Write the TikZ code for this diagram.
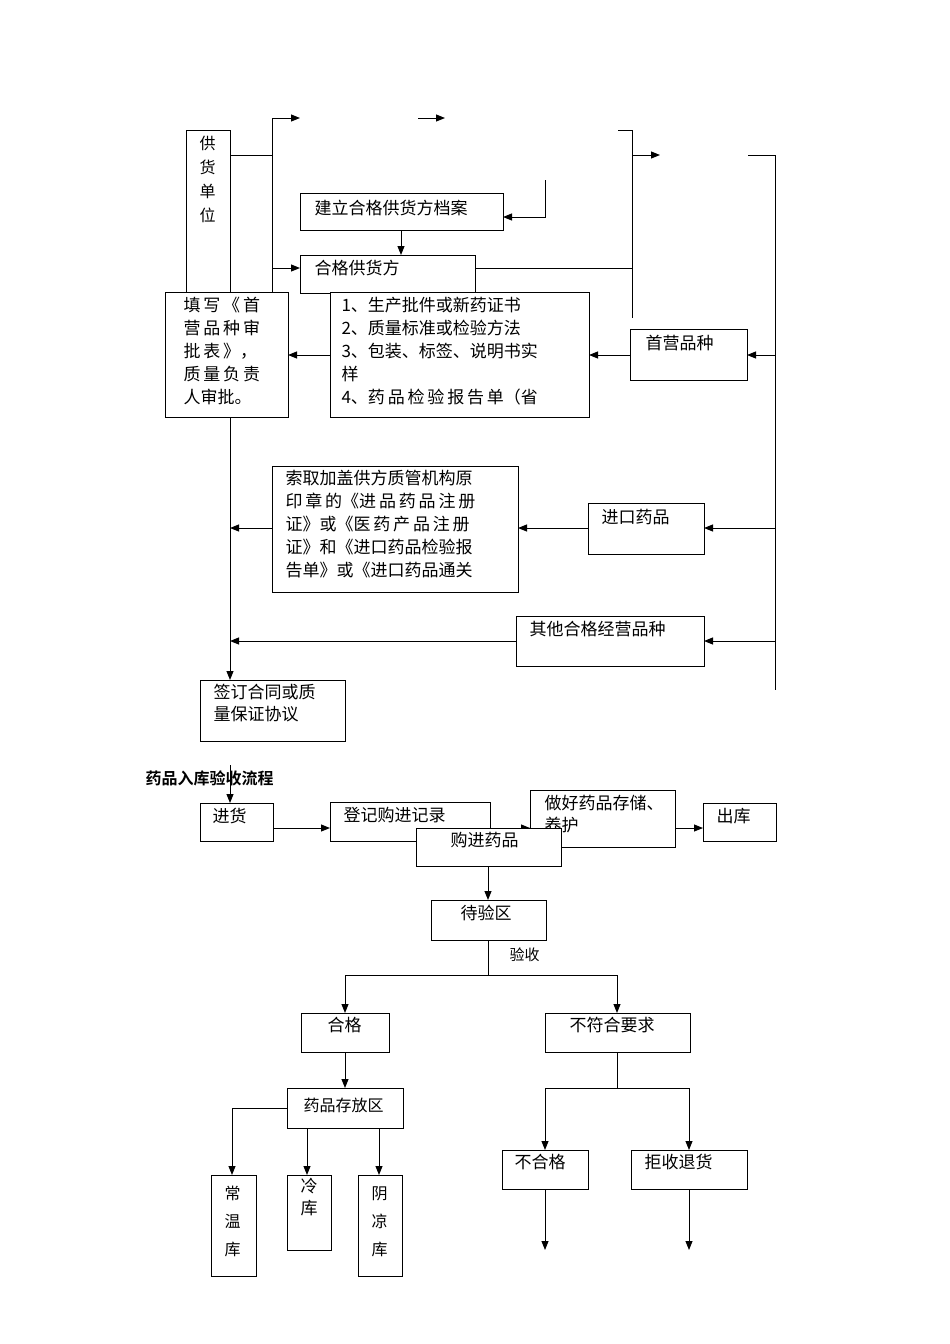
\documentclass[tikz,border=0pt]{standalone}
\usepackage{fontspec}
\setmainfont{Noto Sans CJK SC}
\newfontfamily\cjkb{Noto Sans CJK SC Bold}
\usetikzlibrary{arrows.meta}
\begin{document}
\begin{tikzpicture}[x=1pt,y=-1pt,line width=1pt,
 box/.style={draw,fill=white,anchor=north west,inner sep=0pt,font=\fontsize{17}{22}\selectfont},
 arr/.style={-{Triangle[length=9pt,width=7pt]}},
 t/.style={anchor=north west,font=\fontsize{17}{22}\selectfont,align=left,inner sep=0pt}]
\useasboundingbox (0,0) rectangle (950,1344);
% --- part 1
\node[box,minimum width=44,minimum height=162] (gh) at (186,130) {};
\node[t,align=center,font=\fontsize{16}{21}\selectfont] (ght) at (199,136) {供\\[3pt]货\\[3pt]单\\[3pt]位};
\coordinate (a1) at (272,155);\coordinate (a2) at (272,118);\coordinate (a3) at (300,118);
\coordinate (a4) at (418,118);\coordinate (a5) at (445,118);
\draw (230,155) -- (a1);
\draw[arr] (272,292) -- (a2) -- (a3);
\draw[arr] (a4) -- (a5);
\node[box,minimum width=203,minimum height=37] (jl) at (300,193) {};
\node[t] at (314,200) {建立合格供货方档案};
\coordinate (b1) at (545,180);\coordinate (b2) at (545,217);
\draw[arr] (b1) -- (b2) -- (503,217);
\node[box,minimum width=175,minimum height=38] (hg) at (300,255) {};
\node[t] at (314,260) {合格供货方};
\draw[arr] (401,230) -- (401,255);
\draw[arr] (272,268) -- (300,268);
\coordinate (c1) at (632,268);
\draw (475,268) -- (c1);
\draw (618,130) -- (632,130) -- (632,318);
\draw[arr] (632,155) -- (660,155);
\coordinate (r1) at (775,155);\coordinate (r2) at (775,690);
\draw (748,155) -- (r1) -- (r2);
\node[box,minimum width=123,minimum height=125] (tx) at (165,292) {};
\node[t,font=\fontsize{17}{23}\selectfont] at (183,297) {填\,写\,《\,首\\营\,品\,种\,审\\批\,表\,》，\\质\,量\,负\,责\\人审批。};
\node[box,minimum width=259,minimum height=125] (ls) at (330,292) {};
\node[t,font=\fontsize{17}{23}\selectfont] at (341,297) {1、生产批件或新药证书\\2、质量标准或检验方法\\3、包装、标签、说明书实\\样\\4、药\,品\,检\,验\,报\,告\,单（省};
\node[box,minimum width=117,minimum height=51] (sy) at (630,329) {};
\node[t] at (645,335) {首营品种};
\draw[arr] (775,355) -- (747,355);
\draw[arr] (630,355) -- (589,355);
\draw[arr] (330,355) -- (288,355);
\node[box,minimum width=246,minimum height=126] (sq) at (272,466) {};
\node[t,font=\fontsize{17}{23}\selectfont] at (285,470) {索取加盖供方质管机构原\\印\,章\,的《进\,品\,药\,品\,注\,册\\证》或《医\,药\,产\,品\,注\,册\\证》和《进口药品检验报\\告单》或《进口药品通关};
\node[box,minimum width=116,minimum height=51] (jk) at (588,503) {};
\node[t] at (601,509) {进口药品};
\draw[arr] (775,528) -- (704,528);
\draw[arr] (588,528) -- (518,528);
\draw[arr] (272,528) -- (230,528);
\node[box,minimum width=188,minimum height=50] (qt) at (516,616) {};
\node[t] at (529,621) {其他合格经营品种};
\draw[arr] (775,641) -- (704,641);
\draw[arr] (516,641) -- (230,641);
\node[box,minimum width=145,minimum height=61] (qd) at (200,680) {};
\node[t] at (213,684) {签订合同或质\\量保证协议};
\draw[arr] (230,417) -- (230,680);
% --- part 2
\node[anchor=west,inner sep=0pt,font=\cjkb\fontsize{16}{18}\selectfont] (ttl) at (145,778) {药品入库验收流程};
\node[box,minimum width=73,minimum height=38] (jh) at (200,803) {};
\node[t] at (212,808) {进货};
\draw[arr] (230,765) -- (230,803);
\node[box,minimum width=160,minimum height=39] (dj) at (330,802) {};
\node[t] at (343,807) {登记购进记录};
\draw[arr] (273,828) -- (330,828);
\draw[arr] (490,828) -- (530,828);
\node[box,minimum width=145,minimum height=57] (zh) at (530,790) {};
\node[t] at (544,795) {做好药品存储、\\养护};
\node[box,minimum width=73,minimum height=38] (ck) at (703,803) {};
\node[t] at (716,808) {出库};
\draw[arr] (675,828) -- (703,828);
\node[box,minimum width=145,minimum height=38] (gj) at (416,828) {};
\node[t] at (450,832) {购进药品};
\node[box,minimum width=115,minimum height=40] (dy) at (431,900) {};
\node[t] at (460,905) {待验区};
\draw[arr] (488,866) -- (488,900);
\coordinate (d1) at (488,975);
\draw (488,940) -- (d1);
\node[t,font=\fontsize{15}{17}\selectfont] (ys) at (509,947) {验收};
\draw[arr] (345,975) -- (345,1013);
\draw[arr] (617,975) -- (617,1013);
\draw (345,975) -- (617,975);
\node[box,minimum width=88,minimum height=39] (hgg) at (301,1013) {};
\node[t] at (327,1017) {合格};
\node[box,minimum width=145,minimum height=39] (bf) at (545,1013) {};
\node[t] at (569,1017) {不符合要求};
\node[box,minimum width=116,minimum height=40] (cf) at (287,1088) {};
\node[t,font=\fontsize{16}{18}\selectfont] at (303,1098) {药品存放区};
\draw[arr] (345,1052) -- (345,1088);
\draw[arr] (287,1108) -- (232,1108) -- (232,1175);
\draw[arr] (307,1128) -- (307,1175);
\draw[arr] (379,1128) -- (379,1175);
\node[box,minimum width=45,minimum height=101] (cw) at (211,1175) {};
\node[t,align=center,font=\fontsize{16}{28}\selectfont] at (224,1186) {常\\温\\库};
\node[box,minimum width=44,minimum height=75] (lk) at (287,1175) {};
\node[t,align=center] at (300,1178) {冷\\库};
\node[box,minimum width=44,minimum height=101] (yl) at (358,1175) {};
\node[t,align=center,font=\fontsize{16}{28}\selectfont] at (371,1186) {阴\\凉\\库};
\draw (617,1052) -- (617,1088);
\draw[arr] (617,1088) -- (545,1088) -- (545,1150);
\draw[arr] (617,1088) -- (689,1088) -- (689,1150);
\node[box,minimum width=86,minimum height=39] (bhg) at (502,1150) {};
\node[t] at (514,1154) {不合格};
\node[box,minimum width=116,minimum height=39] (js) at (631,1150) {};
\node[t] at (644,1154) {拒收退货};
\draw[arr] (545,1189) -- (545,1250);
\draw[arr] (689,1189) -- (689,1250);
\end{tikzpicture}
\end{document}
